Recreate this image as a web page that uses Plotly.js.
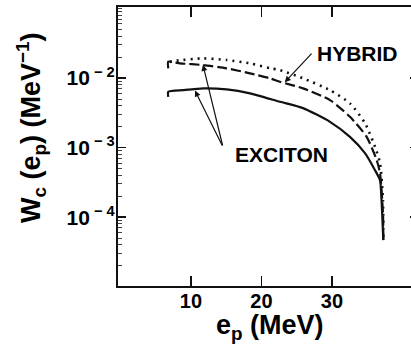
<!DOCTYPE html>
<html>
<head>
<meta charset="utf-8">
<script src="https://cdn.plot.ly/plotly-3.0.1.min.js"></script>
<style>
html,body{margin:0;padding:0;overflow:hidden;background:#fff;}
#chart{width:418px;height:349px;}
</style>
</head>
<body>
<div id="chart"></div>
<script>
// ---- data ----
var xSolid = [6.78, 6.78, 8.91, 11.74, 15.06, 18.37, 22.62, 25.89, 29.72, 32.55, 34.68, 36.10, 36.81, 37.05, 37.28];
var wSolid = [0.00538, 0.00635, 0.00671, 0.00711, 0.00687, 0.00603, 0.00456, 0.00370, 0.00235, 0.00143, 0.000834, 0.000474, 0.000340, 0.000159, 0.0000467];

var xDashed = [6.78, 6.78, 8.44, 11.70, 15.06, 18.37, 21.21, 22.62, 25.89, 29.72, 32.55, 34.92, 36.34, 36.81, 37.23, 37.28];
var wDashed = [0.0138, 0.0172, 0.0163, 0.0154, 0.0138, 0.0117, 0.00991, 0.00885, 0.00711, 0.00482, 0.00277, 0.00143, 0.000661, 0.000430, 0.000114, 0.0000467];

var xDotted = [7.0, 7.97, 11.74, 15.06, 18.37, 21.21, 22.62, 25.89, 29.72, 32.55, 34.68, 36.10, 36.81, 37.23, 37.28];
var wDotted = [0.0170, 0.0178, 0.0192, 0.0182, 0.0163, 0.0139, 0.0130, 0.00991, 0.00671, 0.00433, 0.00225, 0.00103, 0.000598, 0.000176, 0.0000467];

var xTickVals = [10, 20, 30];
var xTickText = ['10', '20', '30'];
var yTickVals = [1e-2, 1e-3, 1e-4];
var yTickText = ['10<sup> \u2212 2</sup>', '10<sup> \u2212 3</sup>', '10<sup> \u2212 4</sup>'];

var labelHybrid = 'HYBRID';
var labelExciton = 'EXCITON';
var xTitle = 'e<sub>p</sub> (MeV)';
var yTitle = 'W<sub>c</sub> (e<sub>p</sub>) (MeV<sup>\u22121</sup>)';

// ---- plot ----
var FONT = '"Liberation Sans", Arial, Helvetica, sans-serif';
var INK = '#111';

var traces = [
  {x: xSolid, y: wSolid, mode: 'lines', name: 'exciton',
   line: {color: INK, width: 2.2, shape: 'spline', smoothing: 0.6}},
  {x: xDashed, y: wDashed, mode: 'lines', name: 'hybrid',
   line: {color: INK, width: 2.2, dash: '10px,4px', shape: 'spline', smoothing: 0.6}},
  {x: xDotted, y: wDotted, mode: 'lines', name: 'dotted',
   line: {color: INK, width: 2.6, dash: '2px,5px', shape: 'spline', smoothing: 0.6}}
];

function lg(v){ return Math.log(v)/Math.LN10; }

var layout = {
  width: 418, height: 349,
  margin: {l: 118, r: 0, t: 7, b: 63, pad: 0},
  paper_bgcolor: '#fff', plot_bgcolor: '#fff',
  showlegend: false,
  font: {family: FONT, color: '#000'},
  xaxis: {
    range: [-0.35, 42.2],
    tickmode: 'array', tickvals: xTickVals, ticktext: xTickText,
    ticks: 'inside', ticklen: 10, tickwidth: 1.6, tickcolor: INK,
    ticklabelstandoff: -4,
    showline: true, linecolor: INK, linewidth: 2, mirror: 'ticks',
    showgrid: false, zeroline: false,
    tickfont: {family: FONT, size: 20, color: '#000', weight: 'bold'}
  },
  yaxis: {
    type: 'log',
    range: [-4.99, -0.978],
    tickmode: 'array', tickvals: yTickVals, ticktext: yTickText,
    ticks: 'inside', ticklen: 8, tickwidth: 1.4, tickcolor: INK,
    ticklabelstandoff: -3,
    minor: {ticks: 'inside', ticklen: 4, tickwidth: 1, tickcolor: '#444', dtick: 'D1', showgrid: false},
    showline: true, linecolor: INK, linewidth: 2, mirror: 'ticks',
    showgrid: false, zeroline: false,
    tickfont: {family: FONT, size: 21, color: '#000', weight: 'bold'}
  },
  annotations: [
    // HYBRID label and arrow
    {xref: 'x', yref: 'y', x: 27.6, y: lg(0.0225), text: labelHybrid, showarrow: false,
     xanchor: 'left', yanchor: 'middle',
     font: {family: FONT, size: 21, color: '#000', weight: 'bold'}},
    {xref: 'x', yref: 'y', axref: 'x', ayref: 'y', x: 23.3, y: lg(0.0087), ax: 27.3, ay: lg(0.0236),
     text: '', showarrow: true, arrowhead: 2, arrowsize: 1, arrowwidth: 1.2, arrowcolor: INK, standoff: 0},
    // EXCITON label and arrows
    {xref: 'x', yref: 'y', x: 15.96, y: lg(0.00079), text: labelExciton, showarrow: false,
     xanchor: 'left', yanchor: 'middle',
     font: {family: FONT, size: 21, color: '#000', weight: 'bold'}},
    {xref: 'x', yref: 'y', axref: 'x', ayref: 'y', x: 10.57, y: lg(0.0066), ax: 14.54, ay: lg(0.00102),
     text: '', showarrow: true, arrowhead: 2, arrowsize: 1, arrowwidth: 1.2, arrowcolor: INK, standoff: 0},
    {xref: 'x', yref: 'y', axref: 'x', ayref: 'y', x: 11.70, y: lg(0.0155), ax: 14.54, ay: lg(0.00102),
     text: '', showarrow: true, arrowhead: 2, arrowsize: 1, arrowwidth: 1.2, arrowcolor: INK, standoff: 0},
    // axis titles
    {xref: 'paper', yref: 'paper', x: 0.507, y: -0.148, text: xTitle, showarrow: false,
     xanchor: 'center', yanchor: 'middle',
     font: {family: FONT, size: 27, color: '#000', weight: 'bold'}},
    {xref: 'paper', yref: 'paper', x: -0.29, y: 0.566, text: yTitle, showarrow: false,
     textangle: -90, xanchor: 'center', yanchor: 'middle',
     font: {family: FONT, size: 27, color: '#000', weight: 'bold'}}
  ],
  shapes: [
    {type: 'line', xref: 'x', yref: 'y', x0: 14.54, x1: 15.7, y0: lg(0.00102), y1: lg(0.00102),
     line: {color: INK, width: 1.2}}
  ]
};

Plotly.newPlot('chart', traces, layout, {displayModeBar: false, staticPlot: true});
</script>
</body>
</html>
